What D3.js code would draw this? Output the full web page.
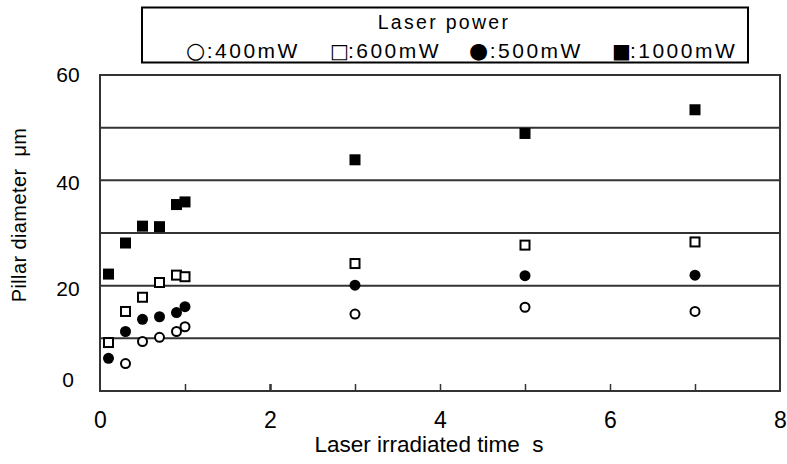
<!DOCTYPE html>
<html><head><meta charset="utf-8">
<script src="https://cdn.jsdelivr.net/npm/d3@7"></script>
<style>body{margin:0;background:#fff} text{white-space:pre}</style></head>
<body><svg id="c" width="787" height="464"></svg>
<script>
const times = [0.1, 0.3, 0.5, 0.7, 0.9, 1.0, 3, 5, 7];
const p400  = [null, 5.2, 9.4, 10.2, 11.3, 12.2, 14.6, 15.9, 15.1];
const p600  = [9.2, 15.1, 17.8, 20.6, 22.0, 21.7, 24.2, 27.7, 28.3];
const p500  = [6.2, 11.3, 13.6, 14.1, 14.9, 16.0, 20.1, 21.9, 22.0];
const p1000 = [22.2, 28.1, 31.3, 31.2, 35.4, 35.9, 43.9, 48.9, 53.4];
const xTickLabels = [0, 2, 4, 6, 8];
const xMinorTicks = [1, 2, 3, 4, 5, 6, 7];
const yTickLabels = [0, 20, 40, 60];
const gridValues = [10, 20, 30, 40, 50];
const legendTitle = "Laser power";
const legendSymbols = ["○", "□", "●", "■"];
const legendLabels = [":400mW", ":600mW", ":500mW", ":1000mW"];
const xTitle = "Laser irradiated time  s";
const yTitle = "Pillar diameter  μm";

const svg = d3.select("#c");
const L = 100, R = 780, T = 75, B = 391;
const x = d3.scaleLinear().domain([0, 8]).range([L, R]);
const y = d3.scaleLinear().domain([0, 60]).range([B, T]);
const sans = "'Liberation Sans', Arial, sans-serif";
const dark = "#333";

// gridlines
svg.append("g").selectAll("line").data(gridValues).join("line")
  .attr("x1", L).attr("x2", R).attr("y1", d => y(d)).attr("y2", d => y(d))
  .attr("stroke", dark).attr("stroke-width", 2);

// plot frame
svg.append("rect").attr("x", L).attr("y", T).attr("width", R - L).attr("height", B - T)
  .attr("fill", "none").attr("stroke", dark).attr("stroke-width", 2);

// minor ticks
const gt = svg.append("g").attr("transform", `translate(0,${B})`)
  .call(d3.axisBottom(x).tickValues(xMinorTicks).tickSizeInner(-7).tickSizeOuter(0).tickFormat(""));
gt.select(".domain").remove();
gt.selectAll("line").attr("stroke", dark).attr("stroke-width", d => d === 2 ? 2.5 : 1.5);

// x tick labels
const gx = svg.append("g").attr("transform", `translate(0,${B})`)
  .call(d3.axisBottom(x).tickValues(xTickLabels).tickSize(0).tickPadding(21));
gx.select(".domain").remove();
gx.selectAll("text").attr("font-family", sans).attr("font-size", 23).attr("fill", "#000");

// y tick labels
const gy = svg.append("g").attr("transform", `translate(${L},0)`)
  .call(d3.axisLeft(y).tickValues(yTickLabels).tickSize(0).tickPadding(32));
gy.select(".domain").remove();
gy.selectAll("text").attr("font-family", sans).attr("font-size", 21).attr("fill", "#000")
  .attr("text-anchor", "middle").attr("dy", d => d === 0 ? "-0.2em" : (d === 60 ? "0.3em" : "0.45em"));

// axis titles
svg.append("text").attr("x", 429).attr("y", 452).attr("text-anchor", "middle")
  .attr("font-family", sans).attr("font-size", 22.5).text(xTitle);
svg.append("text").attr("transform", "translate(26,215) rotate(-90)").attr("text-anchor", "middle")
  .attr("font-family", sans).attr("font-size", 20).attr("letter-spacing", 0.4).text(yTitle);

// data
function pts(arr) { return times.map((t, i) => ({t, v: arr[i]})).filter(d => d.v != null); }
const s = 11;
svg.append("g").selectAll("rect").data(pts(p1000)).join("rect")
  .attr("x", d => x(d.t) - s/2).attr("y", d => y(d.v) - s/2).attr("width", s).attr("height", s)
  .attr("fill", "#000");
svg.append("g").selectAll("rect").data(pts(p600)).join("rect")
  .attr("x", d => x(d.t) - s/2 + 1).attr("y", d => y(d.v) - s/2 + 1).attr("width", s - 2).attr("height", s - 2)
  .attr("fill", "#fff").attr("stroke", "#000").attr("stroke-width", 2);
svg.append("g").selectAll("circle").data(pts(p500)).join("circle")
  .attr("cx", d => x(d.t)).attr("cy", d => y(d.v)).attr("r", 5.5).attr("fill", "#000");
svg.append("g").selectAll("circle").data(pts(p400)).join("circle")
  .attr("cx", d => x(d.t)).attr("cy", d => y(d.v)).attr("r", 4.5)
  .attr("fill", "#fff").attr("stroke", "#000").attr("stroke-width", 2);

// legend
svg.append("rect").attr("x", 142).attr("y", 7.5).attr("width", 606).attr("height", 55)
  .attr("fill", "#fff").attr("stroke", "#000").attr("stroke-width", 2);
svg.append("text").attr("x", 444).attr("y", 29).attr("text-anchor", "middle")
  .attr("font-family", sans).attr("font-size", 19.5).attr("letter-spacing", 2.3).text(legendTitle);
const symX = [186, 330, 469, 612];
const symSize = [22, 20, 22, 20];
const lg = svg.append("g").selectAll("text").data(legendLabels).join("text")
  .attr("x", (d, i) => symX[i]).attr("y", 58);
lg.append("tspan").attr("font-family", "'DejaVu Sans', sans-serif").attr("font-size", (d, i) => symSize[i])
  .text((d, i) => legendSymbols[i]);
lg.append("tspan").attr("dx", (d, i) => i % 2 === 0 ? 1.5 : -1)
  .attr("font-family", sans).attr("font-size", 21).attr("letter-spacing", 2.5).text(d => d);
</script></body></html>
